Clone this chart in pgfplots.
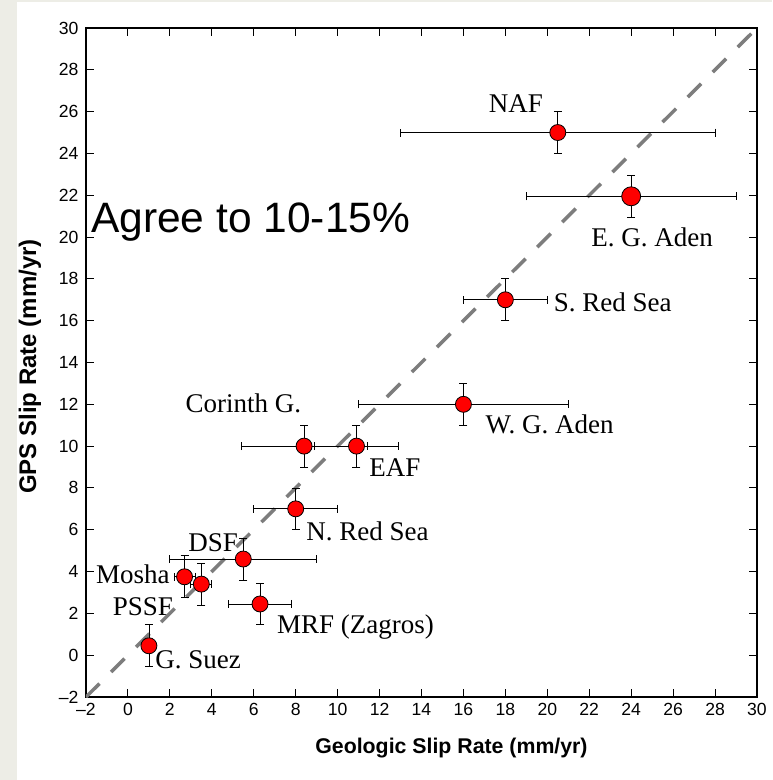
\documentclass[border=0pt]{standalone}
\usepackage{fontspec}
\setmainfont{Liberation Serif}
\setsansfont{Liberation Sans}
\usepackage{pgfplots}
\usepackage{pgfplotstable}
\pgfplotsset{compat=1.18}
\definecolor{bgc}{RGB}{237,237,230}
\definecolor{dashgray}{RGB}{125,125,125}
\pgfplotstableread{
x y ex ey
20.5 25 7.5 1
18 17 2 1
16 12 5 1
8.4 10 3 1
10.9 10 2 1
8 7 2 1
5.5 4.6 3.5 1
2.7 3.75 0.5 1
3.5 3.4 0.5 1
6.3 2.45 1.5 1
1 0.45 0 1
}\pts
\pgfplotstableread{
x y ex ey
24 21.95 5 1
}\ptsbig
\begin{document}
\begin{tikzpicture}
\fill[bgc] (0,0) rectangle (772pt,780pt);
\fill[white] (17pt,0) rectangle (772pt,778pt);
\begin{axis}[
  at={(86pt,83pt)}, anchor=south west,
  scale only axis, width=671pt, height=669pt,
  xmin=-2, xmax=30, ymin=-2, ymax=30,
  xtick={-2,0,...,30}, ytick={-2,0,...,30},
  xticklabels={\textendash2,0,2,4,6,8,10,12,14,16,18,20,22,24,26,28,30},
  yticklabels={\textendash2,0,2,4,6,8,10,12,14,16,18,20,22,24,26,28,30},
  tick align=inside,
  major tick length=8pt,
  tick style={black, line width=1pt},
  axis line style={line width=1.2pt},
  ticklabel style={font=\sffamily\fontsize{17.6}{17.6}\selectfont},
  xticklabel style={yshift=-3pt},
  yticklabel style={xshift=-4pt},
  xlabel={\textbf{Geologic Slip Rate (mm/yr)}},
  ylabel={\textbf{GPS Slip Rate (mm/yr)}},
  xlabel style={font=\sffamily\bfseries\fontsize{21.3}{21.3}\selectfont, at={(axis description cs:0.5447,-0.0842)}, anchor=base},
  ylabel style={font=\sffamily\bfseries\fontsize{24}{24}\selectfont, at={(axis description cs:-0.0745,0.494)}, anchor=base},
  error bars/error bar style={black, line width=0.8pt},
  error bars/error mark options={rotate=90, mark size=4pt, black, line width=0.8pt},
]
\addplot[dashgray, line width=3.5pt, dash pattern=on 19pt off 16.4pt] coordinates {(-2,-2) (30,30)};
\addplot[draw=none, mark=none, error bars/.cd, x dir=both, x explicit, y dir=both, y explicit]
  table[x=x, y=y, x error=ex, y error=ey] {\pts};
\addplot[draw=none, mark=none, error bars/.cd, x dir=both, x explicit, y dir=both, y explicit]
  table[x=x, y=y, x error=ex, y error=ey] {\ptsbig};
\addplot[only marks, mark=*, mark size=8pt, mark options={fill=red, draw=black, line width=0.8pt}]
  table[x=x, y=y] {\pts};
\addplot[only marks, mark=*, mark size=9.5pt, mark options={fill=red, draw=black, line width=0.8pt}]
  table[x=x, y=y] {\ptsbig};
\begin{scope}[every node/.style={font=\fontsize{27}{27}\selectfont, inner sep=0pt}]
\node at (axis cs:18.5,26.4) {NAF};
\node at (axis cs:25.0,20.0) {E. G. Aden};
\node[anchor=west] at (axis cs:20.3,16.9) {S. Red Sea};
\node[anchor=west] at (axis cs:17.05,11.05) {W. G. Aden};
\node at (axis cs:5.5,12.06) {Corinth G.};
\node[anchor=west] at (axis cs:11.5,8.95) {EAF};
\node[anchor=west] at (axis cs:8.5,5.93) {N. Red Sea};
\node at (axis cs:4.06,5.36) {DSF};
\node[anchor=east] at (axis cs:2.0,3.87) {Mosha};
\node[anchor=east] at (axis cs:2.15,2.3) {PSSF};
\node[anchor=west] at (axis cs:7.1,1.34) {MRF (Zagros)};
\node[anchor=west] at (axis cs:1.3,-0.2) {G. Suez};
\end{scope}
\node[anchor=west, inner sep=0pt, font=\sffamily\fontsize{42.5}{42.5}\selectfont] at (axis cs:-1.76,20.7) {Agree to 10-15\%};
\end{axis}
\end{tikzpicture}
\end{document}
